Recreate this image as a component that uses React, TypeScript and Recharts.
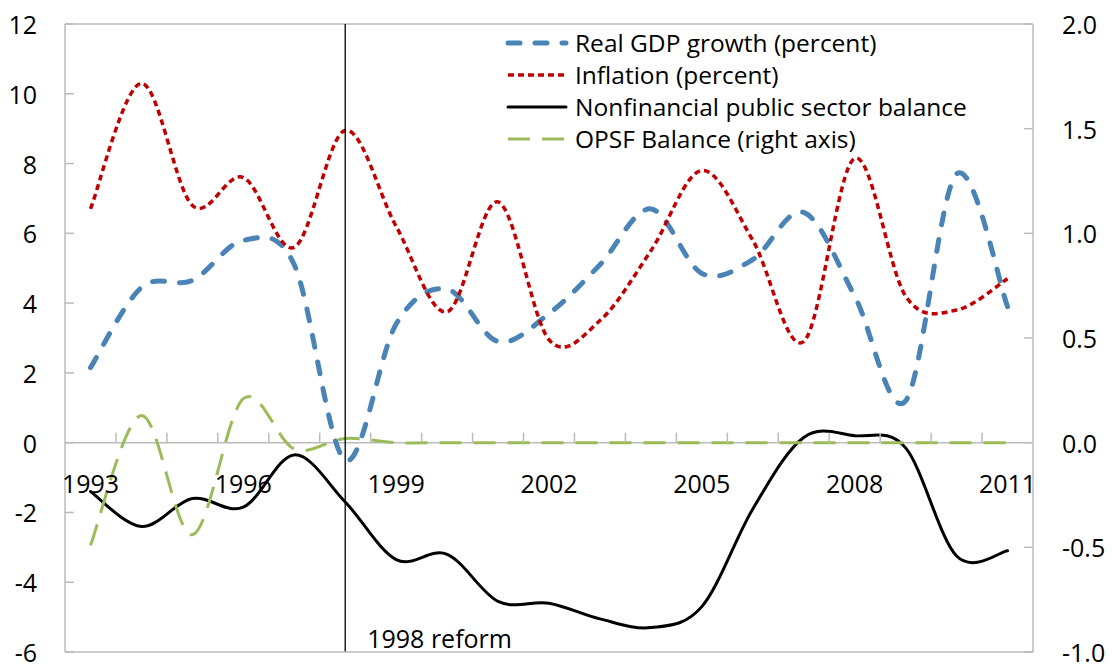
import React from "react";
import { LineChart, Line, XAxis, YAxis, ReferenceLine, Legend } from "recharts";

const years = [1993, 1994, 1995, 1996, 1997, 1998, 1999, 2000, 2001, 2002, 2003, 2004, 2005, 2006, 2007, 2008, 2009, 2010, 2011];
const gdp = [2.15, 4.45, 4.65, 5.8, 5.1, -0.5, 3.4, 4.4, 2.9, 3.7, 5.1, 6.7, 4.85, 5.25, 6.6, 4.2, 1.2, 7.7, 3.9];
const inflation = [6.7, 10.3, 6.8, 7.6, 5.6, 8.95, 6.2, 3.75, 6.9, 2.95, 3.5, 5.5, 7.8, 5.8, 2.9, 8.15, 4.2, 3.8, 4.7];
const nfps = [-1.4, -2.4, -1.6, -1.85, -0.35, -1.7, -3.35, -3.2, -4.55, -4.6, -5.05, -5.3, -4.7, -1.9, 0.15, 0.2, -0.15, -3.25, -3.1];
const opsf = [-0.49, 0.13, -0.44, 0.21, -0.03, 0.02, 0, 0, 0, 0, 0, 0, 0, 0, 0, 0, 0, 0, 0];

const leftTicks = [-6, -4, -2, 0, 2, 4, 6, 8, 10, 12];
const rightTicks = [-1, -0.5, 0, 0.5, 1, 1.5, 2];
const yearLabels = [1993, 1996, 1999, 2002, 2005, 2008, 2011];

const series = [
  { key: "gdp", name: "Real GDP growth (percent)", color: "#4A84B6", width: 5, dash: "12 15", cap: "round", axis: "l" },
  { key: "inflation", name: "Inflation (percent)", color: "#C00000", width: 3.5, dash: "6 4", cap: "butt", axis: "l" },
  { key: "nfps", name: "Nonfinancial public sector balance", color: "#000000", width: 3, dash: undefined, cap: "round", axis: "l" },
  { key: "opsf", name: "OPSF Balance (right axis)", color: "#9BBB59", width: 3, dash: "22 12", cap: "butt", axis: "r" },
];

const rows = years.map((year, i) => ({
  year,
  gdp: gdp[i],
  inflation: inflation[i],
  nfps: nfps[i],
  opsf: opsf[i],
}));

const W = 1112;
const H = 666;
const TOP = 24;
const LEFT_W = 65;
const RIGHT_W = 79;
const BOTTOM_H = 14;
const PLOT_W = W - LEFT_W - RIGHT_W;
const PLOT_H = H - TOP - BOTTOM_H;
const CAT_W = PLOT_W / years.length;
const ZERO_Y = TOP + (PLOT_H * 12) / 18;
const FONT = "'Open Sans', 'Noto Sans', sans-serif";
const AXIS = "#BBBBBB";

// Catmull-Rom smoothing, close to Excel's "smoothed line"
const catmullRom = (context: any) => {
  let pts: number[][] = [];
  return {
    areaStart() {},
    areaEnd() {},
    lineStart() {
      pts = [];
    },
    point(x: number, y: number) {
      pts.push([+x, +y]);
    },
    lineEnd() {
      const n = pts.length;
      if (!n) return;
      context.moveTo(pts[0][0], pts[0][1]);
      for (let i = 0; i < n - 1; i++) {
        const p0 = pts[i - 1] || pts[i];
        const p1 = pts[i];
        const p2 = pts[i + 1];
        const p3 = pts[i + 2] || p2;
        context.bezierCurveTo(
          p1[0] + (p2[0] - p0[0]) / 6,
          p1[1] + (p2[1] - p0[1]) / 6,
          p2[0] - (p3[0] - p1[0]) / 6,
          p2[1] - (p3[1] - p1[1]) / 6,
          p2[0],
          p2[1]
        );
      }
    },
  };
};

const LeftTick = ({ x, y, payload }: any) => (
  <g>
    <line x1={x + 28} x2={x + 37} y1={y} y2={y} stroke={AXIS} strokeWidth={1.5} />
    <text x={x} y={y} textAnchor="end" dominantBaseline="central" fontSize={25} fontFamily={FONT} fill="#000">
      {payload.value}
    </text>
  </g>
);

const RightTick = ({ x, y, payload }: any) => (
  <g>
    <line x1={x - 29} x2={x - 38} y1={y} y2={y} stroke={AXIS} strokeWidth={1.5} />
    <text x={x} y={y} textAnchor="start" dominantBaseline="central" fontSize={25} fontFamily={FONT} fill="#000">
      {payload.value.toFixed(1)}
    </text>
  </g>
);

const YearTick = ({ x, payload, index }: any) => (
  <g>
    {index > 0 && (
      <line x1={x - CAT_W / 2} x2={x - CAT_W / 2} y1={ZERO_Y} y2={ZERO_Y - 10} stroke={AXIS} strokeWidth={1.5} />
    )}
    {yearLabels.includes(payload.value) && (
      <text x={x} y={ZERO_Y + 40} textAnchor="middle" dominantBaseline="central" fontSize={25} fontFamily={FONT} fill="#000">
        {payload.value}
      </text>
    )}
  </g>
);

const LegendBox = () => (
  <div style={{ fontFamily: FONT, fontSize: 24.5, lineHeight: "32px", color: "#000" }}>
    {series.map((s) => (
      <div key={s.key} style={{ display: "flex", alignItems: "center", whiteSpace: "nowrap" }}>
        <svg width={71} height={32}>
          <line
            x1={4}
            x2={62}
            y1={16}
            y2={16}
            stroke={s.color}
            strokeWidth={s.width}
            strokeDasharray={s.dash}
            strokeLinecap={s.cap as any}
          />
        </svg>
        <span>{s.name}</span>
      </div>
    ))}
  </div>
);

export default function App() {
  return (
    <div style={{ position: "absolute", left: 0, top: 0, background: "#fff" }}>
      <LineChart width={W} height={H} data={rows} margin={{ top: TOP, right: 0, bottom: 0, left: 0 }}>
        <XAxis
          dataKey="year"
          type="category"
          height={BOTTOM_H}
          padding={{ left: CAT_W / 2, right: CAT_W / 2 }}
          interval={0}
          tickLine={false}
          axisLine={{ stroke: AXIS, strokeWidth: 1.5 }}
          tick={<YearTick />}
        />
        <YAxis
          yAxisId="l"
          domain={[-6, 12]}
          ticks={leftTicks}
          width={LEFT_W}
          tickSize={0}
          tickMargin={28}
          tickLine={false}
          axisLine={{ stroke: AXIS, strokeWidth: 1.5 }}
          tick={<LeftTick />}
          interval={0}
        />
        <YAxis
          yAxisId="r"
          orientation="right"
          domain={[-1, 2]}
          ticks={rightTicks}
          width={RIGHT_W}
          tickSize={0}
          tickMargin={29}
          tickLine={false}
          axisLine={{ stroke: AXIS, strokeWidth: 1.5 }}
          tick={<RightTick />}
          interval={0}
        />
        <ReferenceLine yAxisId="l" y={12} stroke={AXIS} strokeWidth={1.5} />
        <ReferenceLine yAxisId="l" y={0} stroke={AXIS} strokeWidth={1.5} />
        {series.map((s) => (
          <Line
            key={s.key}
            yAxisId={s.axis}
            dataKey={s.key}
            name={s.name}
            type={catmullRom as any}
            stroke={s.color}
            strokeWidth={s.width}
            strokeDasharray={s.dash}
            strokeLinecap={s.cap as any}
            dot={false}
            activeDot={false}
            isAnimationActive={false}
          />
        ))}
        <ReferenceLine
          yAxisId="l"
          x={1998}
          stroke="#000"
          strokeWidth={1.3}
          label={{ value: "1998 reform", position: "insideBottomLeft", offset: 22, fontSize: 25, fontFamily: FONT, fill: "#000", dy: 18 }}
        />
        <Legend
          layout="vertical"
          align="center"
          verticalAlign="middle"
          content={<LegendBox />}
          wrapperStyle={{ top: 27, left: 504, width: 500, height: "auto" }}
        />
      </LineChart>
    </div>
  );
}
